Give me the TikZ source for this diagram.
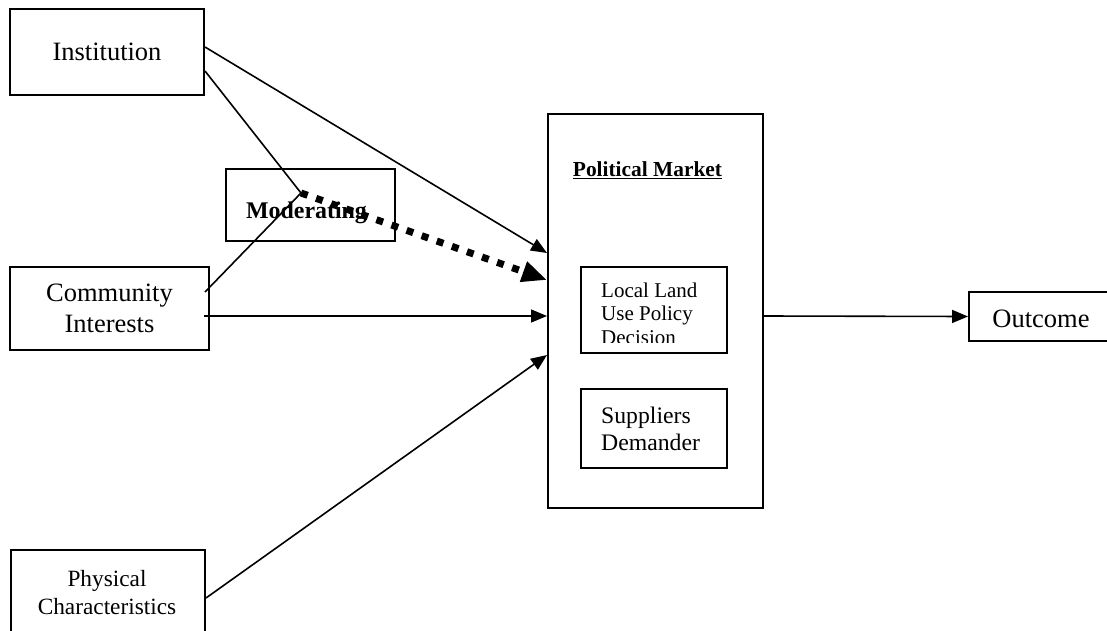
\documentclass[tikz,border=0pt]{standalone}
\usepackage{fontspec}
\setmainfont{Liberation Serif}
\usetikzlibrary{arrows.meta}
\begin{document}
\begin{tikzpicture}[x=1pt,y=-1pt,
  box/.style={draw,line width=2pt,inner sep=0pt},
  conn/.style={line width=1.6pt},
  arr/.style={conn,-{Triangle[length=16pt,width=13pt]}},
  dotarr/.style={line width=7pt,dash pattern=on 7pt off 9pt,-{Triangle[length=25pt,width=20pt]}},
  big/.style={font=\fontsize{26.5}{31}\selectfont,align=center},
  mid/.style={font=\fontsize{23.3}{28}\selectfont,align=center}]
\useasboundingbox[fill=white] (0,0) rectangle (1107,631);

% boxes
\node[box,minimum width=194pt,minimum height=86pt] (inst) at (107,52) {};
\node[big] (instt) at (107,52) {Institution};

\node[box,minimum width=169pt,minimum height=72pt] (mod) at (310.5,205) {};

\node[box,minimum width=199pt,minimum height=83pt] (comm) at (109.5,308.5) {};
\node[big] (commt) at (109.5,308) {Community\\Interests};

\node[box,minimum width=194pt,minimum height=140pt,anchor=north west] (phys) at (10,549) {};
\node[mid] (physt) at (107,593) {Physical\\Characteristics};

\node[box,minimum width=215pt,minimum height=394pt] (pm) at (655.5,311) {};
\node[font=\fontsize{21.4}{25}\bfseries\selectfont,anchor=base] (pmt) at (647.5,177) {\underline{Political Market}};

\node[box,minimum width=146pt,minimum height=86pt] (land) at (654,310) {};
\begin{scope}
  \clip (583,268) rectangle (726,342.5);
  \node[font=\fontsize{21}{23.5}\selectfont,align=left,anchor=base west,inner sep=0pt] (landt) at (601,344) {Local Land\\Use Policy\\Decision};
\end{scope}

\node[box,minimum width=146pt,minimum height=79pt] (sup) at (654,428.5) {};
\node[font=\fontsize{23.7}{27}\selectfont,align=left,anchor=base west,inner sep=0pt] (supt) at (601,450) {Suppliers\\Demander};

\node[box,minimum width=200pt,minimum height=49pt,anchor=north west] (out) at (968,291) {};
\node[big,anchor=base] (outt) at (1041,327) {Outcome};

% connectors
\coordinate (J) at (301,193);
\draw[arr] ([yshift=5pt]inst.east) -- ([yshift=58pt]pm.west);
\draw[conn] ([yshift=-19pt]inst.east) -- (J);
\draw[conn] ([shift={(-5pt,16.5pt)}]comm.east) -- (J);
\draw[dotarr] (J) -- ([yshift=31pt]pm.west);
\node[font=\fontsize{23.9}{28}\bfseries\selectfont,anchor=base] (modt) at (306.5,218) {Moderating};
\draw[arr] ([shift={(-6pt,-7.5pt)}]comm.east) -- ([yshift=-5pt]pm.west);
\draw[arr] ([yshift=-49pt]phys.north east) -- ([yshift=-44pt]pm.west);
\draw[arr] ([yshift=-5pt]pm.east) -- (out.west);
\end{tikzpicture}
\end{document}
